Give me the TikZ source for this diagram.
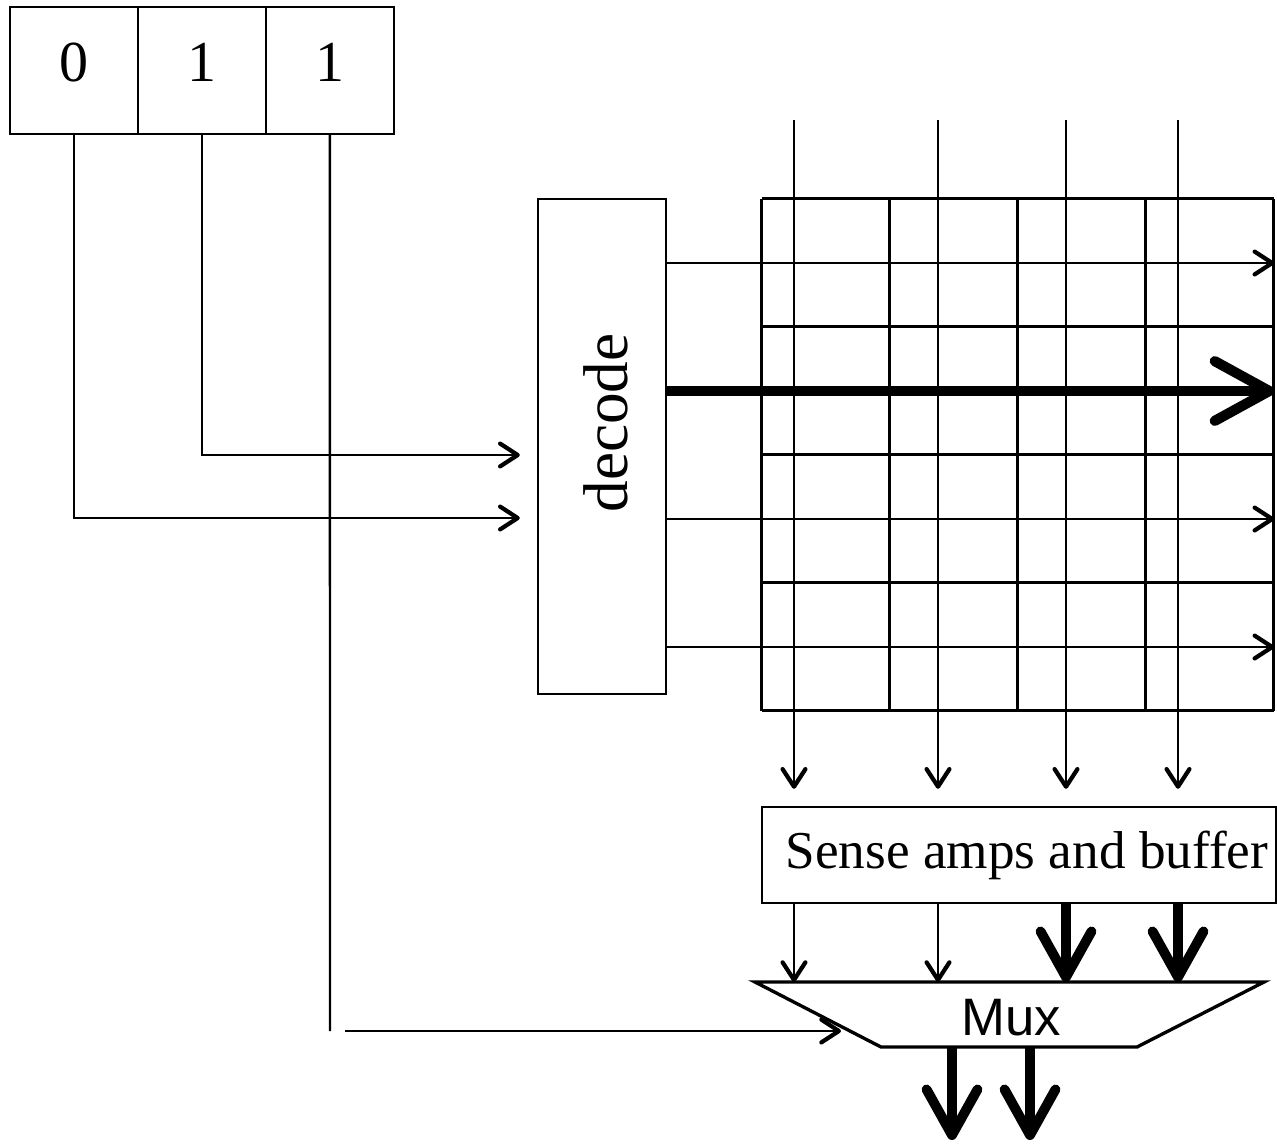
\documentclass[tikz,border=0pt]{standalone}
\usepackage{fontspec}
\setmainfont{Liberation Serif}
\newfontfamily\muxfont{Liberation Sans}
\usetikzlibrary{arrows.meta,positioning}

\tikzset{
  wire/.style={line width=1.4pt},
  thinarrow/.style={wire, -{Straight Barb[length=10pt,width=13pt,line width=2.4pt,round]}},
  fatarrow/.style={line width=5.6pt, -{Straight Barb[length=26pt,width=29pt,round]}},
  bitcell/.style={draw, wire, minimum width=2.56cm, minimum height=2.54cm, inner sep=0pt, outer sep=0pt,
    text depth=0.32cm, font=\fontsize{33}{40}\selectfont},
}

\begin{document}
\begin{tikzpicture}[x=0.02cm, y=-0.02cm]
    \useasboundingbox (0,0) rectangle (1277,1143);

    % Adresseregister
    \node[bitcell] (bit0) at (74,70.5) {0};
    \node[bitcell, right=0pt of bit0] (bit1) {1};
    \node[bitcell, right=0pt of bit1] (bit2) {1};

    % Dekoder
    \node[draw, wire, minimum width=2.56cm, minimum height=9.9cm, inner sep=0pt] (dec) at (602,446.5) {};
    \node[rotate=90, inner sep=0pt, font=\fontsize{36}{43}\selectfont] (declabel) at (605.5,423) {decode};

    % Minnematrise
    \node[minimum size=10.24cm, inner sep=0pt] (array) at (1018,455) {};
    \draw[wire, shift={(array.north west)}] (0,0) grid[step=2.56cm] (512,512);

    % Leseforsterkere og mux
    \node[draw, wire, minimum width=10.28cm, minimum height=1.92cm, inner sep=0pt, font=\fontsize{30.3}{36}\selectfont]
        (sense) at (1019,855) {\hspace{9pt}Sense amps and buffer};
    \coordinate (muxtl) at (755,982);
    \coordinate (muxtr) at (1264,982);
    \coordinate (muxbr) at (1137,1047);
    \coordinate (muxbl) at (881,1047);
    \draw[line width=1.9pt] (muxtl) -- (muxtr) -- (muxbr) -- (muxbl) -- cycle;
    \node[font=\muxfont\fontsize{30}{36}\selectfont, inner sep=0pt] (mux) at (1011,1018) {Mux};

    % Adresselinjer
    \draw[thinarrow, shorten >=0.34cm] (bit0.south) |- (dec.west |- 0,518);
    \draw[thinarrow, shorten >=0.34cm] (bit1.south) |- (dec.west |- 0,455);
    \coordinate (selend) at (330,1031);
    \coordinate (selin) at (345,1031);
    \coordinate (muxsel) at (841,1031);
    \draw[wire] (bit2.south) -- (selend);
    \draw[thinarrow] (selin) -- (muxsel);

    % Ordlinjer
    \foreach \yy in {263,519,647}
        \draw[thinarrow] (dec.east |- 0,\yy) -- (array.east |- 0,\yy);
    \draw[line width=5.8pt, -{Straight Barb[length=31pt,width=34pt,round]}] (dec.east |- 0,391) -- (array.east |- 0,391);

    % Bitlinjer
    \foreach \xx/\nm in {794/bla,938/blb,1066/blc,1178/bld} {
        \coordinate (\nm) at (\xx,120);
        \draw[thinarrow, shorten >=0.34cm] (\nm) -- (\nm |- sense.north);
    }
    \draw[thinarrow] (sense.south -| bla) -- (bla |- muxtl);
    \draw[thinarrow] (sense.south -| blb) -- (blb |- muxtl);
    \draw[fatarrow] (sense.south -| blc) -- (blc |- muxtl);
    \draw[fatarrow] (sense.south -| bld) -- (bld |- muxtl);

    % Utganger
    \coordinate (outa) at (952,1140);
    \coordinate (outb) at (1030,1140);
    \draw[fatarrow] (outa |- muxbl) -- (outa);
    \draw[fatarrow] (outb |- muxbl) -- (outb);
\end{tikzpicture}
\end{document}
